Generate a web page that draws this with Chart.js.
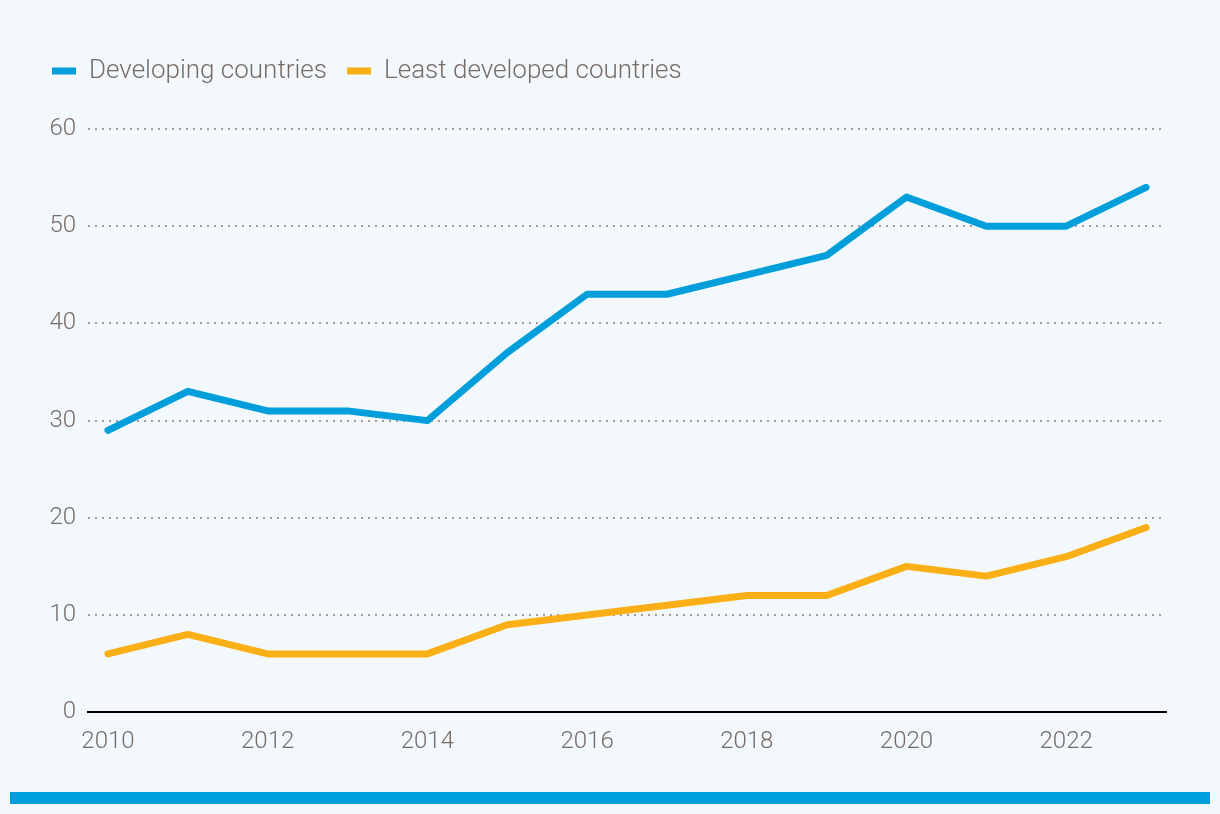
<!DOCTYPE html>
<html>
<head>
<meta charset="utf-8">
<script src="https://cdn.jsdelivr.net/npm/chart.js@4"></script>
<style>
  html, body { margin: 0; padding: 0; background: #f3f8fc; }
  #wrap { position: relative; width: 1220px; height: 780px; }
  #bar { position: absolute; left: 10px; top: 792px; width: 1200px; height: 12px; background: #009edb; }
</style>
</head>
<body>
<div id="wrap"><canvas id="myChart"></canvas></div>
<div id="bar"></div>
<script>
const years = [2010, 2011, 2012, 2013, 2014, 2015, 2016, 2017, 2018, 2019, 2020, 2021, 2022, 2023];
const developing = [29, 33, 31, 31, 30, 37, 43, 43, 45, 47, 53, 50, 50, 54];
const leastDeveloped = [6, 8, 6, 6, 6, 9, 10, 11, 12, 12, 15, 14, 16, 19];
const xTicks = [2010, 2012, 2014, 2016, 2018, 2020, 2022];

const textColor = '#766c66';
const fontFamily = '"Liberation Sans Narrow", "Roboto", sans-serif';

const toPoints = (vals) => vals.map((v, i) => ({ x: years[i], y: v }));

const data = {
  datasets: [{
    label: 'Developing countries',
    data: toPoints(developing),
    borderColor: '#009edb',
    backgroundColor: '#009edb',
    borderWidth: 7,
    borderCapStyle: 'round',
    borderJoinStyle: 'round',
    pointRadius: 0,
    tension: 0,
  }, {
    label: 'Least developed countries',
    data: toPoints(leastDeveloped),
    borderColor: '#fbaf17',
    backgroundColor: '#fbaf17',
    borderWidth: 7,
    borderCapStyle: 'round',
    borderJoinStyle: 'round',
    pointRadius: 0,
    tension: 0,
  }]
};

// extra room under the legend
const legendGap = {
  id: 'legendGap',
  beforeInit(chart) {
    const fit = chart.legend.fit;
    chart.legend.fit = function() {
      fit.bind(chart.legend)();
      this.height += 35;
    };
  }
};

const config = {
  type: 'line',
  data: data,
  plugins: [legendGap],
  options: {
    responsive: true,
    maintainAspectRatio: false,
    animation: false,
    layout: {
      padding: { left: 32, right: 54, top: 38, bottom: 9 }
    },
    plugins: {
      legend: {
        position: 'top',
        align: 'start',
        labels: {
          usePointStyle: true,
          pointStyleWidth: 24,
          pointStyle: 'line',
          boxHeight: 8,
          padding: 20,
          color: textColor,
          font: { family: fontFamily, size: 26, weight: '300' }
        }
      },
      tooltip: { enabled: false }
    },
    scales: {
      x: {
        type: 'linear',
        min: 2009.75,
        max: 2023.25,
        afterBuildTicks: (s) => { s.ticks = xTicks.map(v => ({ value: v })); },
        grid: { display: false, drawTicks: false },
        border: { display: true, color: '#000000', width: 2 },
        ticks: {
          padding: 15,
          color: textColor,
          font: { family: fontFamily, size: 24, weight: '300' },
          maxRotation: 0,
          callback: (v) => String(v)
        }
      },
      y: {
        min: 0,
        max: 60,
        afterFit: (s) => { s.width = 56; },
        ticks: {
          stepSize: 10,
          padding: 12,
          color: textColor,
          font: { family: fontFamily, size: 24, weight: '300' }
        },
        grid: {
          drawTicks: false,
          lineWidth: 2,
          color: (ctx) => ctx.tick && ctx.tick.value === 0 ? 'rgba(0,0,0,0)' : '#a39b95'
        },
        border: { display: false, dash: [2, 5] }
      }
    }
  }
};

const myChart = new Chart(
  document.getElementById('myChart'),
  config
);
</script>
</body>
</html>
